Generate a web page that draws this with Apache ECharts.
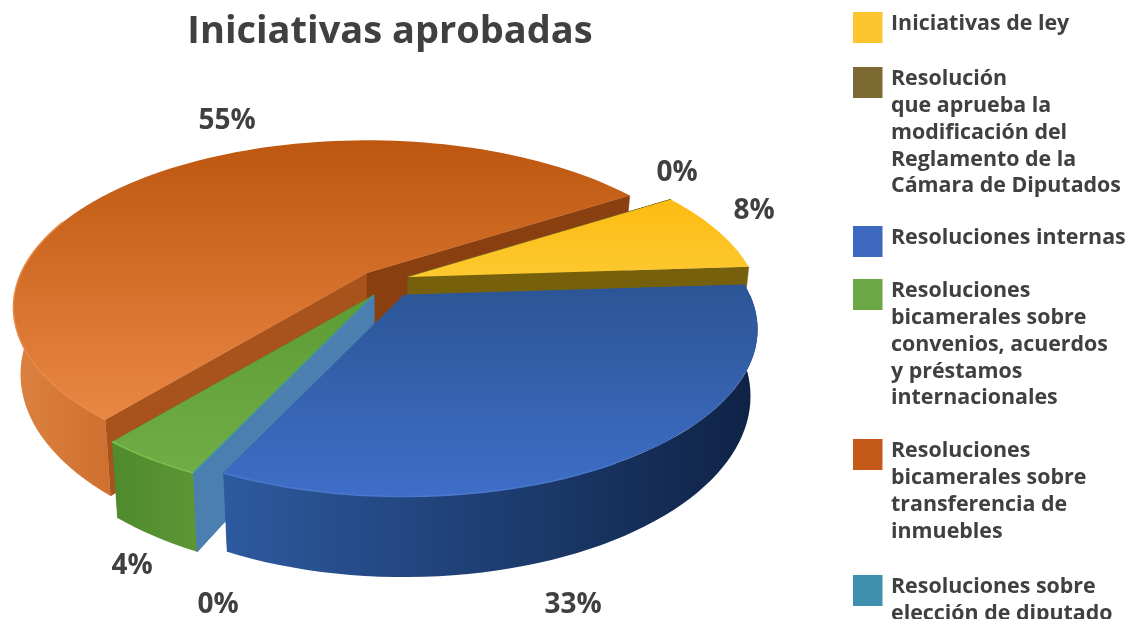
<!DOCTYPE html>
<html lang="es">
<head>
<meta charset="UTF-8">
<title>Iniciativas aprobadas</title>
<script src="https://cdn.jsdelivr.net/npm/echarts@6/dist/echarts.min.js"></script>
<style>
  html, body { margin: 0; padding: 0; background: #fff; }
  #chart { width: 1129px; height: 619px; }
</style>
</head>
<body>
<div id="chart"></div>
<script>
// datos, en el orden de la leyenda
var categories = [
  'Iniciativas de ley',
  'Resolución\nque aprueba la\nmodificación del\nReglamento de la\nCámara de Diputados',
  'Resoluciones internas',
  'Resoluciones\nbicamerales sobre\nconvenios, acuerdos\ny préstamos\ninternacionales',
  'Resoluciones\nbicamerales sobre\ntransferencia de\ninmuebles',
  'Resoluciones sobre\nelección de diputado'
];
var shares = [8, 0, 33, 4, 55, 0];

// orden de las rebanadas en sentido horario y orden de pintado
var sliceOrder = [1, 0, 2, 5, 3, 4];
var paintOrder = [4, 1, 0, 3, 5, 2];

// estilo
var FONT = '"Open Sans", sans-serif';
var TEXT = '#404040';
var swatchColors = ['#fdc52f', '#7d6a33', '#3c69bf', '#6ba745', '#c55a18', '#3f8fae'];
var topColors = [
  ['#fdbb12', '#fdc92f'], ['#7d6a33', '#7d6a33'], ['#2b5595', '#3f6ec8'],
  ['#5c9c35', '#70ad47'], ['#bd570f', '#ea8744'], ['#4a7fb0', '#4a7fb0']
];
var wallColors = [
  ['#c79a20', '#c79a20'], ['#6b5a20', '#6b5a20'], ['#2d5a9f', '#0f2245'],
  ['#4f8a2c', '#5c9635'], ['#dc8241', '#cf6f30'], ['#4a7fb0', '#4a7fb0']
];
var startCutColors = ['#76600c', '#7a6010', '#2d5a9f', '#4a7fb0', '#a8521c', '#4a7fb0'];
var endCutColors = ['#76600c', '#7a6010', '#2d5a9f', '#4f8a2c', '#8a3f10', '#4a7fb0'];
var rimColors = ['#fdc52f', '#7d6a33', '#4a78cc', '#7cc04e', '#e98a4a', '#4a7fb0'];

// geometria del pastel
var center = [385, 285];
var explode = [[23, -8], [23, -8], [19, 10], [-11, 10], [-18, -12], [-11, 10]];
var radiusX = 346, radiusY = 160, perspective = 0.206, depth = 64, bottomShrink = 0.98;
var startAngle = -32.5;

// posicion de los porcentajes
var labelPos = [[754, 211], [677, 173], [573, 605], [132, 566], [227, 121], [218, 605]];
// posicion de la leyenda
var legendTops = [12, 67, 226, 279, 439, 575];

var angles = {};
var acc = startAngle;
sliceOrder.forEach(function (i) {
  var span = shares[i] / 100 * 360;
  angles[i] = [acc, acc + span];
  acc += span;
});

function pt(i, deg, bottom) {
  var r = deg * Math.PI / 180;
  var u = Math.cos(r), v = Math.sin(r);
  var s = 1 / (1 - perspective * v);
  var ox = center[0] + explode[i][0], oy = center[1] + explode[i][1];
  return [
    ox + radiusX * u * s * (bottom ? bottomShrink : 1),
    oy + radiusY * v * s + (bottom ? depth * s : 0)
  ];
}
function apex(i, bottom) {
  var ox = center[0] + explode[i][0], oy = center[1] + explode[i][1];
  return [ox, oy + (bottom ? depth : 0)];
}
function arc(i, a, b, bottom) {
  var out = [];
  var n = Math.max(1, Math.ceil(Math.abs(b - a) / 2));
  for (var k = 0; k <= n; k++) out.push(pt(i, a + (b - a) * k / n, bottom));
  return out;
}
function grad(x2, y2, c) {
  return new echarts.graphic.LinearGradient(0, 0, x2, y2, [
    { offset: 0, color: c[0] }, { offset: 1, color: c[1] }
  ]);
}
function cut(i, deg, fill) {
  return {
    type: 'polygon',
    shape: { points: [apex(i), pt(i, deg), pt(i, deg, true), apex(i, true)] },
    style: { fill: fill, stroke: fill, lineWidth: 0.5 }
  };
}

function renderSlice(params, api) {
  var i = api.value(0);
  var a = angles[i][0], b = angles[i][1];
  var kids = [];
  // primero los cortes, luego la pared y la tapa encima
  kids.push(cut(i, a, startCutColors[i]));
  kids.push(cut(i, b, endCutColors[i]));
  // pared exterior, solo la parte que mira al frente
  var wa = Math.max(a, 0), wb = Math.min(b, 200);
  if (wb > wa) {
    kids.push({
      type: 'polygon',
      shape: { points: arc(i, wa, wb).concat(arc(i, wb, wa, true)) },
      style: { fill: grad(1, 0, wallColors[i]) }
    });
  }
  if (api.value(1) > 0) {
    kids.push({
      type: 'polygon',
      shape: { points: [apex(i)].concat(arc(i, a, b)) },
      style: { fill: grad(0, 1, topColors[i]) }
    });
    // brillo del borde frontal
    var ra = Math.max(a, 60), rb = Math.min(b, 200);
    if (rb > ra) {
      kids.push({
        type: 'polyline',
        shape: { points: arc(i, ra, rb) },
        style: { fill: 'none', stroke: rimColors[i], lineWidth: 1.5 }
      });
    }
  } else {
    kids.push({
      type: 'polyline',
      shape: { points: [apex(i), pt(i, a)] },
      style: { fill: 'none', stroke: swatchColors[i], lineWidth: 1.5 }
    });
  }
  return { type: 'group', children: kids };
}

function renderLabel(params, api) {
  var i = api.value(0);
  return {
    type: 'text',
    x: labelPos[i][0],
    y: labelPos[i][1],
    style: {
      text: api.value(1) + '%', fill: TEXT, align: 'center', verticalAlign: 'middle',
      font: 'bold 28px ' + FONT
    }
  };
}

var legendItems = [];
categories.forEach(function (name, i) {
  legendItems.push({
    type: 'rect',
    shape: { x: 853, y: legendTops[i], width: 29.5, height: 31 },
    style: { fill: swatchColors[i] }
  });
  legendItems.push({
    type: 'text',
    x: 891,
    y: legendTops[i] - 1,
    style: {
      text: name, fill: TEXT, font: 'bold 21.4px ' + FONT,
      lineHeight: 26.7, verticalAlign: 'top', align: 'left'
    }
  });
});

var chart = echarts.init(document.getElementById('chart'), null, { renderer: 'canvas' });
chart.setOption({
  animation: false,
  title: {
    text: 'Iniciativas aprobadas',
    left: 385, top: 8, textAlign: 'center',
    textStyle: { fontFamily: FONT, fontWeight: 'bold', fontSize: 38, color: TEXT }
  },
  graphic: legendItems,
  series: [
    {
      type: 'custom',
      coordinateSystem: 'none',
      silent: true,
      renderItem: renderSlice,
      data: paintOrder.map(function (i) { return [i, shares[i]]; })
    },
    {
      type: 'custom',
      coordinateSystem: 'none',
      silent: true,
      renderItem: renderLabel,
      data: categories.map(function (c, i) { return [i, shares[i]]; })
    }
  ]
});
</script>
</body>
</html>
